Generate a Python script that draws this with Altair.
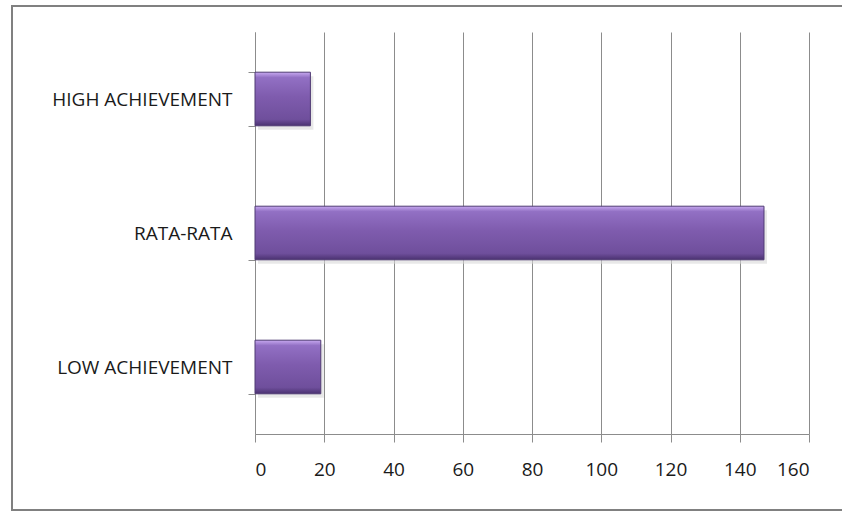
import altair as alt
import pandas as pd

categories = ["HIGH ACHIEVEMENT", "RATA-RATA", "LOW ACHIEVEMENT"]
values = [16, 147, 19]
x_ticks = [0, 20, 40, 60, 80, 100, 120, 140, 160]

df = pd.DataFrame({"category": categories, "value": values})

W, H = 554, 402
PL, PT = 255, 32

grad = alt.Gradient(
    gradient="linear", x1=0, y1=0, x2=0, y2=1,
    stops=[
        alt.GradientStop(offset=0.0, color="#c7a9f0"),
        alt.GradientStop(offset=0.1, color="#9270c4"),
        alt.GradientStop(offset=0.45, color="#7f5cae"),
        alt.GradientStop(offset=0.88, color="#6f4f9c"),
        alt.GradientStop(offset=1.0, color="#4a3170"),
    ],
)

x_enc = alt.X("value:Q", scale=alt.Scale(domain=[0, 160], nice=False),
              axis=alt.Axis(values=x_ticks, title=None, grid=True, gridColor="#8c8c8c",
                            gridWidth=1, domainColor="#8c8c8c", tickColor="#8c8c8c",
                            tickSize=8, labelPadding=18, labelFontSize=19,
                            labelFont="Open Sans", labelColor="#1a1a1a", domainWidth=1))
y_enc = alt.Y("category:N", sort=categories,
              scale=alt.Scale(paddingInner=0.6, paddingOuter=0.3),
              axis=alt.Axis(title=None, bandPosition=0, tickBand="extent",
                            domainColor="#8c8c8c", tickColor="#8c8c8c", tickSize=7,
                            labelPadding=16, labelFontSize=19, labelFont="Open Sans",
                            labelLimit=400, labelColor="#1a1a1a", grid=False))

shadow = alt.Chart(df).mark_bar(color="#d9d9d9", opacity=0.6, yOffset=4, xOffset=3).encode(
    x=alt.X("value:Q", scale=alt.Scale(domain=[0, 160], nice=False)),
    y=alt.Y("category:N", sort=categories, scale=alt.Scale(paddingInner=0.6, paddingOuter=0.3)),
)

bars = alt.Chart(df).mark_bar(fill=grad, stroke="#4f3a73", strokeWidth=1).encode(
    x=x_enc, y=y_enc,
)

frame = alt.Chart(df).mark_rect(fill=None, stroke="#808080", strokeWidth=2, clip=False).encode(
    x=alt.value(12 - PL), x2=alt.value(900 - PL),
    y=alt.value(6 - PT), y2=alt.value(510 - PT),
)

chart = alt.layer(shadow, bars, frame).properties(
    width=W, height=H,
    autosize=alt.AutoSizeParams(type="none"),
    padding={"left": PL, "top": PT, "right": 842 - PL - W, "bottom": 512 - PT - H},
    background="white",
).configure_view(stroke=None)

chart.save("out.html", embed_options={"renderer": "svg", "actions": False})
